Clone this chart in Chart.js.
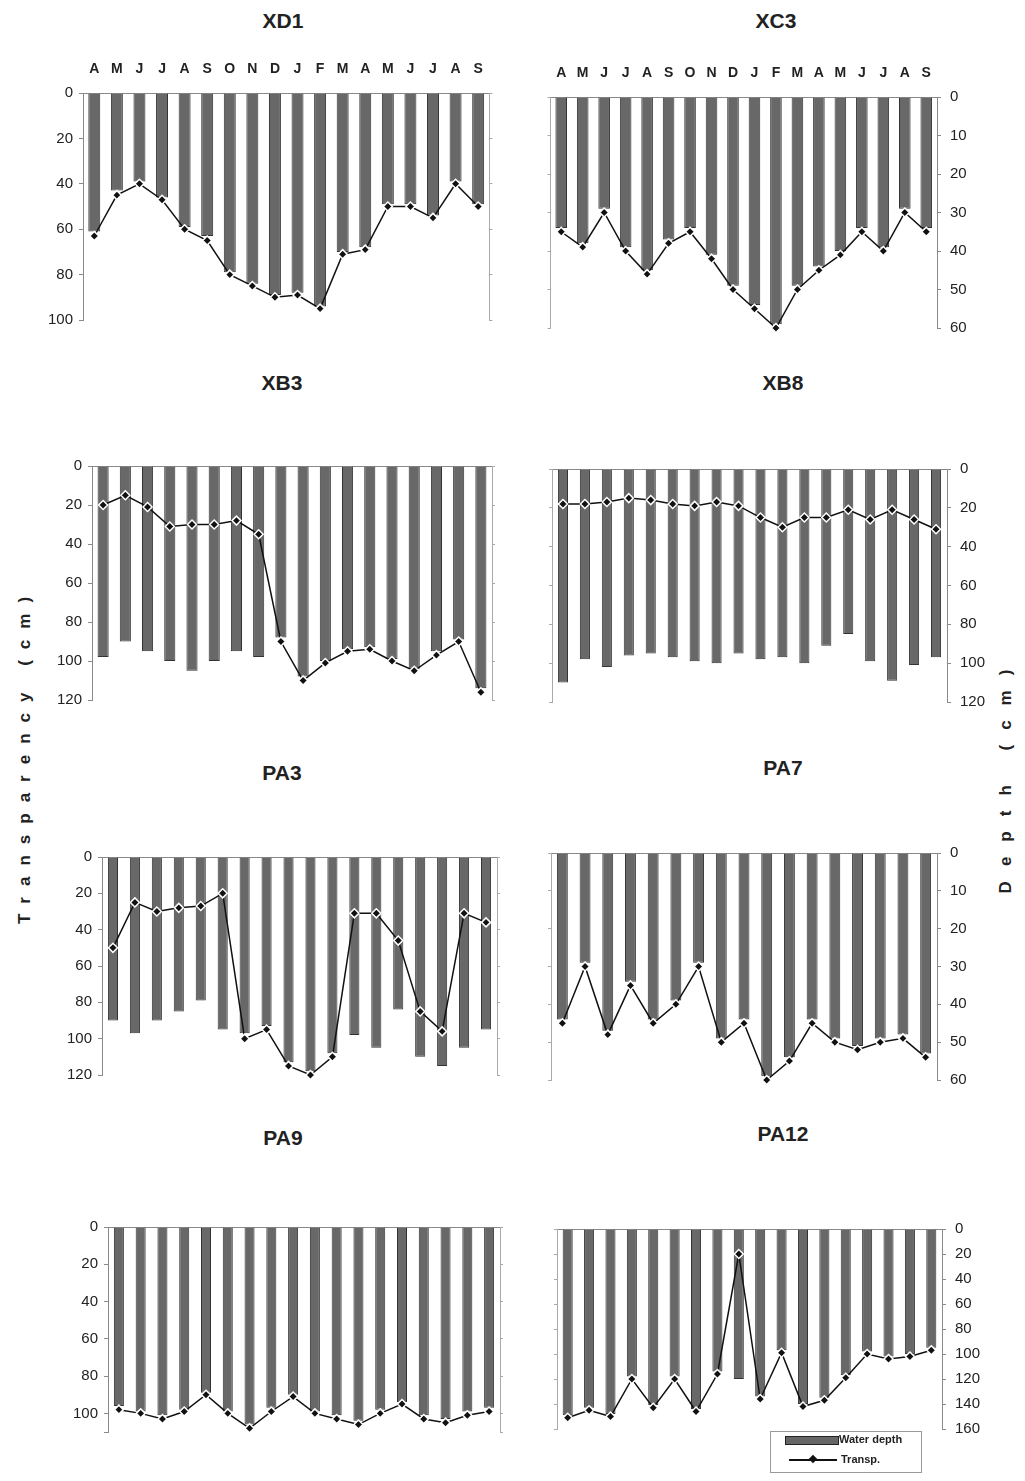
<!DOCTYPE html>
<html>
<head>
<meta charset="utf-8">
<script src="https://cdn.jsdelivr.net/npm/chart.js@4.4.1/dist/chart.umd.min.js"></script>
<style>
  body { margin: 0; background: #fff; width: 1025px; height: 1481px; position: relative; overflow: hidden;
         font-family: "Liberation Sans", Arial, sans-serif; color: #222; }
  canvas { position: absolute; }
  .title { position: absolute; transform: translate(-50%, -50%); font-weight: bold; font-size: 21px; }
  .axisTitle { position: absolute; font-weight: bold; font-size: 17px; white-space: nowrap;
               transform: translate(-50%, -50%) rotate(-90deg); }
  #legend { position: absolute; left: 770px; top: 1431px; width: 150px; height: 40px; border: 1px solid #999;
            font-size: 11px; font-weight: bold; }
  #legend .sw { position: absolute; left: 14px; top: 4px; width: 52px; height: 7px; background: #666; border: 1px solid #222; }
  #legend .ln { position: absolute; left: 18px; top: 27px; width: 48px; height: 2px; background: #111; }
  #legend .dm { position: absolute; left: 39px; top: 24px; width: 6px; height: 6px; background: #111; transform: rotate(45deg); }
  #legend .t1 { position: absolute; left: 68px; top: 1px; }
  #legend .t2 { position: absolute; left: 70px; top: 21px; }
</style>
</head>
<body>

<div class="title" style="left:283px; top:21px;">XD1</div>
<div class="title" style="left:776px; top:21px;">XC3</div>
<div class="title" style="left:282px; top:383px;">XB3</div>
<div class="title" style="left:783px; top:383px;">XB8</div>
<div class="title" style="left:282px; top:773px;">PA3</div>
<div class="title" style="left:783px; top:768px;">PA7</div>
<div class="title" style="left:283px; top:1138px;">PA9</div>
<div class="title" style="left:783px; top:1134px;">PA12</div>

<div class="axisTitle" style="left:25px; top:755px; letter-spacing:11px;">Transparency (cm)</div>
<div class="axisTitle" style="left:1006px; top:774px; letter-spacing:15px;">Depth (cm)</div>

<canvas id="xd1"></canvas>
<canvas id="xc3"></canvas>
<canvas id="xb3"></canvas>
<canvas id="xb8"></canvas>
<canvas id="pa3"></canvas>
<canvas id="pa7"></canvas>
<canvas id="pa9"></canvas>
<canvas id="pa12"></canvas>

<div id="legend">
  <div class="sw"></div><div class="t1">Water depth</div>
  <div class="ln"></div><div class="dm"></div><div class="t2">Transp.</div>
</div>

<script>
// months, April to September of the following year
const months = ['A', 'M', 'J', 'J', 'A', 'S', 'O', 'N', 'D', 'J', 'F', 'M', 'A', 'M', 'J', 'J', 'A', 'S'];
const months17 = months.slice(0, 17);

// water depth (bars) and transparency (line), cm
const xd1Depth  = [61, 43, 39, 46, 59, 63, 79, 84, 89, 88, 94, 70, 68, 49, 49, 54, 39, 49];
const xd1Transp = [63, 45, 40, 47, 60, 65, 80, 85, 90, 89, 95, 71, 69, 50, 50, 55, 40, 50];

const xc3Depth  = [34, 38, 29, 39, 45, 37, 34, 41, 49, 54, 59, 49, 44, 40, 34, 39, 29, 34];
const xc3Transp = [35, 39, 30, 40, 46, 38, 35, 42, 50, 55, 60, 50, 45, 41, 35, 40, 30, 35];

const xb3Depth  = [98, 90, 95, 100, 105, 100, 95, 98, 88, 108, 100, 94, 93, 99, 104, 95, 89, 114];
const xb3Transp = [20, 15, 21, 31, 30, 30, 28, 35, 90, 110, 101, 95, 94, 100, 105, 97, 90, 116];

const xb8Depth  = [110, 98, 102, 96, 95, 97, 99, 100, 95, 98, 97, 100, 91, 85, 99, 109, 101, 97];
const xb8Transp = [18, 18, 17, 15, 16, 18, 19, 17, 19, 25, 30, 25, 25, 21, 26, 21, 26, 31];

const pa3Depth  = [90, 97, 90, 85, 79, 95, 97, 93, 113, 118, 108, 98, 105, 84, 110, 115, 105, 95];
const pa3Transp = [50, 25, 30, 28, 27, 20, 100, 95, 115, 120, 110, 31, 31, 46, 85, 96, 31, 36];

const pa7Depth  = [44, 29, 47, 34, 44, 39, 29, 49, 44, 59, 54, 44, 49, 51, 49, 48, 53];
const pa7Transp = [45, 30, 48, 35, 45, 40, 30, 50, 45, 60, 55, 45, 50, 52, 50, 49, 54];

const pa9Depth  = [96, 99, 101, 98, 89, 99, 106, 97, 90, 99, 101, 104, 98, 94, 101, 103, 99, 97];
const pa9Transp = [98, 100, 103, 99, 90, 100, 108, 99, 91, 100, 103, 106, 100, 95, 103, 105, 101, 99];

const pa12Depth  = [149, 143, 148, 118, 141, 118, 144, 114, 120, 134, 97, 140, 135, 117, 98, 102, 100, 95];
const pa12Transp = [151, 145, 150, 120, 143, 120, 146, 116, 20, 136, 99, 142, 137, 119, 100, 104, 102, 97];

Chart.defaults.font.family = '"Liberation Sans", Arial, sans-serif';
Chart.defaults.color = '#222';

// plot box in page pixels, axis side and range for each panel
const panels = [
  { id: 'xd1', L: 83,  R: 492, T: 93,   B: 320,  side: 'left',  max: 100, top: 100, step: 20, bw: 0.53, months: true, labels: months,   depth: xd1Depth, transp: xd1Transp },
  { id: 'xc3', L: 547, R: 937, T: 97,   B: 328,  side: 'right', max: 60,  top: 60,  step: 10, bw: 0.54, months: true, labels: months,   depth: xc3Depth, transp: xc3Transp },
  { id: 'xb3', L: 92,  R: 492, T: 466,  B: 700,  side: 'left',  max: 120, top: 120, step: 20, bw: 0.5,  labels: months,   depth: xb3Depth, transp: xb3Transp },
  { id: 'xb8', L: 552, R: 947, T: 469,  B: 702,  side: 'right', max: 120, top: 120, step: 20, bw: 0.46, labels: months,   depth: xb8Depth, transp: xb8Transp },
  { id: 'pa3', L: 102, R: 497, T: 857,  B: 1075, side: 'left',  max: 120, top: 120, step: 20, bw: 0.46, labels: months,   depth: pa3Depth, transp: pa3Transp },
  { id: 'pa7', L: 551, R: 937, T: 853,  B: 1080, side: 'right', max: 60,  top: 60,  step: 10, bw: 0.48, labels: months17, depth: pa7Depth, transp: pa7Transp },
  { id: 'pa9', L: 108, R: 500, T: 1227, B: 1432, side: 'left',  max: 110, top: 100, step: 20, bw: 0.46, labels: months,   depth: pa9Depth, transp: pa9Transp },
  { id: 'pa12', L: 557, R: 942, T: 1229, B: 1429, side: 'right', max: 160, top: 160, step: 20, bw: 0.47, labels: months,  depth: pa12Depth, transp: pa12Transp }
];

const axisGrey = '#8a8a8a';

panels.forEach(p => {
  // label half-heights make Chart.js reserve ~15px above and below, so keep pads larger
  const wLab = 45, wOff = 6, padB = 20;
  const wL = p.side === 'left' ? wLab : wOff;
  const wR = p.side === 'right' ? wLab : wOff;
  const topH = p.months ? 42 : 20;

  const cv = document.getElementById(p.id);
  cv.width = p.R - p.L + wL + wR;
  cv.height = p.B - p.T + topH + padB;
  cv.style.left = (p.L - wL) + 'px';
  cv.style.top = (p.T - topH) + 'px';

  const other = p.side === 'left' ? 'right' : 'left';

  new Chart(cv.getContext('2d'), {
    data: {
      labels: p.labels,
      datasets: [
        {
          type: 'line',
          label: 'Transp.',
          data: p.transp,
          borderColor: '#111',
          borderWidth: 1.5,
          pointStyle: 'rectRot',
          pointRadius: 4.5,
          pointBackgroundColor: '#111',
          pointBorderColor: '#fff',
          pointBorderWidth: 1.5,
          tension: 0,
          clip: false,
          order: 1
        },
        {
          type: 'bar',
          label: 'Water depth',
          data: p.depth,
          backgroundColor: '#686868',
          borderColor: '#333',
          borderWidth: 1,
          barPercentage: p.bw,
          categoryPercentage: 1,
          order: 2
        }
      ]
    },
    options: {
      responsive: false,
      animation: false,
      layout: { padding: { top: 0, left: 0, right: 0, bottom: padB } },
      plugins: {
        legend: { display: false },
        tooltip: { enabled: false }
      },
      scales: {
        x: {
          position: 'top',
          offset: true,
          grid: { display: false, drawTicks: false },
          border: { display: true, color: axisGrey, width: 1 },
          ticks: {
            display: !!p.months,
            autoSkip: false,
            maxRotation: 0,
            padding: 15,
            color: '#222',
            font: { size: 14, weight: 'bold' }
          },
          afterFit: s => { s.height = topH; }
        },
        y: {
          position: p.side,
          reverse: true,
          min: 0,
          max: p.max,
          ticks: {
            stepSize: p.step,
            padding: p.side === 'left' ? 6 : 9,
            color: '#222',
            font: { size: 15 },
            callback: v => (v > p.top ? '' : v)
          },
          grid: { drawOnChartArea: false, tickLength: 4, color: axisGrey },
          border: { color: axisGrey, width: 1 },
          afterFit: s => { s.width = wLab; }
        },
        y2: {
          position: other,
          reverse: true,
          min: 0,
          max: p.max,
          ticks: { display: false, stepSize: p.step },
          grid: { drawOnChartArea: false, tickLength: 3, color: '#aaa' },
          border: { color: '#aaa', width: 1 },
          afterFit: s => { s.width = wOff; }
        }
      }
    }
  });
});
</script>
</body>
</html>
